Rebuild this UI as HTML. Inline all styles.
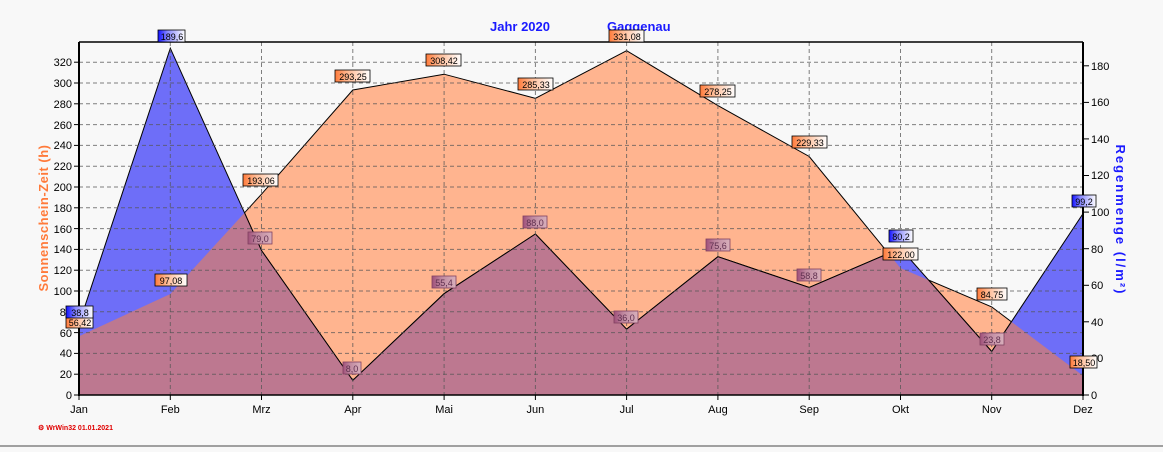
<!DOCTYPE html>
<html><head><meta charset="utf-8"><style>
html,body{margin:0;padding:0;background:#f8f8f8;}
svg text{font-family:"Liberation Sans",sans-serif;}
</style></head><body>
<svg width="1163" height="447" viewBox="0 0 1163 447" xmlns="http://www.w3.org/2000/svg">
<defs>
<linearGradient id="og" x1="0" x2="1"><stop offset="0" stop-color="#ff7a3a"/><stop offset="0.35" stop-color="#ffb890"/><stop offset="1" stop-color="#fff"/></linearGradient>
<linearGradient id="bg" x1="0" x2="1"><stop offset="0" stop-color="#1010ff"/><stop offset="0.35" stop-color="#8888ff"/><stop offset="1" stop-color="#fff"/></linearGradient>
<linearGradient id="mg" x1="0" x2="1"><stop offset="0" stop-color="#a0507a"/><stop offset="0.4" stop-color="#c08aa0"/><stop offset="1" stop-color="#d8b0bc"/></linearGradient>
<clipPath id="sunclip"><polygon points="79,395 79,336.3 170.3,294 261.5,194.2 352.8,90 444.1,74.2 535.4,98.3 626.6,50.7 717.9,105.6 809.2,156.5 900.5,268.1 991.7,306.9 1083,375.8 1083,395"/></clipPath>
</defs>
<rect x="0" y="445" width="1163" height="2" fill="#a0a0a0"/>
<rect x="79" y="42" width="1004" height="353" fill="#f8f8f8"/>
<!-- areas -->
<polygon points="79,395 79,336.3 170.3,294 261.5,194.2 352.8,90 444.1,74.2 535.4,98.3 626.6,50.7 717.9,105.6 809.2,156.5 900.5,268.1 991.7,306.9 1083,375.8 1083,395" fill="#ffb48f" stroke="#000" stroke-width="1"/>
<polygon points="79,395 79,324 170.3,48.2 261.5,250.5 352.8,380.4 444.1,293.7 535.4,234 626.6,329.2 717.9,256.7 809.2,287.5 900.5,248.3 991.7,351.5 1083,213.6 1083,395" fill="#6e6ef8" stroke="#000" stroke-width="1"/>
<polygon clip-path="url(#sunclip)" points="79,395 79,324 170.3,48.2 261.5,250.5 352.8,380.4 444.1,293.7 535.4,234 626.6,329.2 717.9,256.7 809.2,287.5 900.5,248.3 991.7,351.5 1083,213.6 1083,395" fill="#bd7890" stroke="#000" stroke-width="1"/>
<!-- grid -->
<g stroke="#555" stroke-opacity="0.75" stroke-dasharray="4,3" stroke-width="1">
<line x1="79" x2="1083" y1="374.2" y2="374.2"/><line x1="79" x2="1083" y1="353.4" y2="353.4"/><line x1="79" x2="1083" y1="332.6" y2="332.6"/><line x1="79" x2="1083" y1="311.8" y2="311.8"/><line x1="79" x2="1083" y1="291" y2="291"/><line x1="79" x2="1083" y1="270.2" y2="270.2"/><line x1="79" x2="1083" y1="249.4" y2="249.4"/><line x1="79" x2="1083" y1="228.6" y2="228.6"/><line x1="79" x2="1083" y1="207.8" y2="207.8"/><line x1="79" x2="1083" y1="187" y2="187"/><line x1="79" x2="1083" y1="166.2" y2="166.2"/><line x1="79" x2="1083" y1="145.4" y2="145.4"/><line x1="79" x2="1083" y1="124.6" y2="124.6"/><line x1="79" x2="1083" y1="103.8" y2="103.8"/><line x1="79" x2="1083" y1="83" y2="83"/><line x1="79" x2="1083" y1="62.2" y2="62.2"/>
<line x1="170.3" x2="170.3" y1="42" y2="395"/><line x1="261.5" x2="261.5" y1="42" y2="395"/><line x1="352.8" x2="352.8" y1="42" y2="395"/><line x1="444.1" x2="444.1" y1="42" y2="395"/><line x1="535.4" x2="535.4" y1="42" y2="395"/><line x1="626.6" x2="626.6" y1="42" y2="395"/><line x1="717.9" x2="717.9" y1="42" y2="395"/><line x1="809.2" x2="809.2" y1="42" y2="395"/><line x1="900.5" x2="900.5" y1="42" y2="395"/><line x1="991.7" x2="991.7" y1="42" y2="395"/>
</g>
<!-- frame -->
<line x1="79" y1="42" x2="1083" y2="42" stroke="#000" stroke-width="1.5"/>
<line x1="79" y1="42" x2="79" y2="396" stroke="#000" stroke-width="2"/>
<line x1="1083" y1="42" x2="1083" y2="396" stroke="#000" stroke-width="2"/>
<line x1="79" y1="395" x2="1083" y2="395" stroke="#000" stroke-width="1.5"/>
<!-- left ticks -->
<g stroke="#000" stroke-width="1">
<line x1="74" x2="79" y1="395" y2="395"/><line x1="74" x2="79" y1="374.2" y2="374.2"/><line x1="74" x2="79" y1="353.4" y2="353.4"/><line x1="74" x2="79" y1="332.6" y2="332.6"/><line x1="74" x2="79" y1="311.8" y2="311.8"/><line x1="74" x2="79" y1="291" y2="291"/><line x1="74" x2="79" y1="270.2" y2="270.2"/><line x1="74" x2="79" y1="249.4" y2="249.4"/><line x1="74" x2="79" y1="228.6" y2="228.6"/><line x1="74" x2="79" y1="207.8" y2="207.8"/><line x1="74" x2="79" y1="187" y2="187"/><line x1="74" x2="79" y1="166.2" y2="166.2"/><line x1="74" x2="79" y1="145.4" y2="145.4"/><line x1="74" x2="79" y1="124.6" y2="124.6"/><line x1="74" x2="79" y1="103.8" y2="103.8"/><line x1="74" x2="79" y1="83" y2="83"/><line x1="74" x2="79" y1="62.2" y2="62.2"/>
<line x1="1083" x2="1089" y1="395" y2="395"/><line x1="1083" x2="1089" y1="358.4" y2="358.4"/><line x1="1083" x2="1089" y1="321.8" y2="321.8"/><line x1="1083" x2="1089" y1="285.3" y2="285.3"/><line x1="1083" x2="1089" y1="248.7" y2="248.7"/><line x1="1083" x2="1089" y1="212.1" y2="212.1"/><line x1="1083" x2="1089" y1="175.5" y2="175.5"/><line x1="1083" x2="1089" y1="138.9" y2="138.9"/><line x1="1083" x2="1089" y1="102.4" y2="102.4"/><line x1="1083" x2="1089" y1="65.8" y2="65.8"/>
<line x1="79" x2="79" y1="395" y2="400"/><line x1="170.3" x2="170.3" y1="395" y2="400"/><line x1="261.5" x2="261.5" y1="395" y2="400"/><line x1="352.8" x2="352.8" y1="395" y2="400"/><line x1="444.1" x2="444.1" y1="395" y2="400"/><line x1="535.4" x2="535.4" y1="395" y2="400"/><line x1="626.6" x2="626.6" y1="395" y2="400"/><line x1="717.9" x2="717.9" y1="395" y2="400"/><line x1="809.2" x2="809.2" y1="395" y2="400"/><line x1="900.5" x2="900.5" y1="395" y2="400"/><line x1="991.7" x2="991.7" y1="395" y2="400"/><line x1="1083" x2="1083" y1="395" y2="400"/>
</g>
<g font-size="11" fill="#000" text-anchor="end">
<text x="72" y="399">0</text><text x="72" y="378">20</text><text x="72" y="357">40</text><text x="72" y="337">60</text><text x="72" y="316">80</text><text x="72" y="295">100</text><text x="72" y="274">120</text><text x="72" y="253">140</text><text x="72" y="233">160</text><text x="72" y="212">180</text><text x="72" y="191">200</text><text x="72" y="170">220</text><text x="72" y="149">240</text><text x="72" y="129">260</text><text x="72" y="108">280</text><text x="72" y="87">300</text><text x="72" y="66">320</text>
</g>
<g font-size="11" fill="#000">
<text x="1091" y="399">0</text><text x="1091" y="362">20</text><text x="1091" y="326">40</text><text x="1091" y="289">60</text><text x="1091" y="253">80</text><text x="1091" y="216">100</text><text x="1091" y="179">120</text><text x="1091" y="143">140</text><text x="1091" y="106">160</text><text x="1091" y="70">180</text>
</g>
<g font-size="11" fill="#000" text-anchor="middle">
<text x="79" y="413">Jan</text><text x="170.3" y="413">Feb</text><text x="261.5" y="413">Mrz</text><text x="352.8" y="413">Apr</text><text x="444.1" y="413">Mai</text><text x="535.4" y="413">Jun</text><text x="626.6" y="413">Jul</text><text x="717.9" y="413">Aug</text><text x="809.2" y="413">Sep</text><text x="900.5" y="413">Okt</text><text x="991.7" y="413">Nov</text><text x="1083" y="413">Dez</text>
</g>
<text x="490" y="31" font-size="13" font-weight="bold" fill="#1a1aff">Jahr  2020</text>
<text x="607" y="31" font-size="13" font-weight="bold" fill="#1a1aff">Gaggenau</text>
<text transform="translate(48,218) rotate(-90)" text-anchor="middle" font-size="13" font-weight="bold" fill="#ff7a3a" letter-spacing="0.5">Sonnenschein-Zeit  (h)</text>
<text transform="translate(1116,220) rotate(90)" text-anchor="middle" font-size="13" font-weight="bold" fill="#1a1aff" letter-spacing="2">Regenmenge  (l/m²)</text>
<text x="38" y="430" font-size="7" font-weight="bold" fill="#e00000">⚙ WrWin32  01.01.2021</text>
<!-- labels -->
<g font-size="9" fill="#000" text-anchor="middle">
<g stroke="#000" stroke-width="0.8">
<rect x="66" y="316" width="27" height="12" fill="url(#og)"/>
<rect x="155" y="274" width="32" height="12" fill="url(#og)"/>
<rect x="243" y="174" width="35" height="12" fill="url(#og)"/>
<rect x="335" y="70" width="35" height="12" fill="url(#og)"/>
<rect x="426" y="54" width="35" height="12" fill="url(#og)"/>
<rect x="518" y="78" width="35" height="12" fill="url(#og)"/>
<rect x="609" y="30" width="35" height="12" fill="url(#og)"/>
<rect x="700" y="85" width="35" height="12" fill="url(#og)"/>
<rect x="792" y="136" width="35" height="12" fill="url(#og)"/>
<rect x="883" y="248" width="35" height="12" fill="url(#og)"/>
<rect x="977" y="288" width="30" height="12" fill="url(#og)"/>
<rect x="1070" y="356" width="27" height="12" fill="url(#og)"/>
<rect x="66" y="306" width="27" height="12" fill="url(#bg)"/>
<rect x="158" y="30" width="27" height="12" fill="url(#bg)"/>
<rect x="248" y="232" width="24" height="12" fill="url(#mg)" stroke="#804060"/>
<rect x="343" y="362" width="18" height="12" fill="url(#mg)" stroke="#804060"/>
<rect x="432" y="276" width="24" height="12" fill="url(#mg)" stroke="#804060"/>
<rect x="523" y="216" width="24" height="12" fill="url(#mg)" stroke="#804060"/>
<rect x="614" y="311" width="24" height="12" fill="url(#mg)" stroke="#804060"/>
<rect x="706" y="239" width="24" height="12" fill="url(#mg)" stroke="#804060"/>
<rect x="797" y="269" width="24" height="12" fill="url(#mg)" stroke="#804060"/>
<rect x="889" y="230" width="24" height="12" fill="url(#bg)"/>
<rect x="980" y="333" width="24" height="12" fill="url(#mg)" stroke="#804060"/>
<rect x="1072" y="195" width="24" height="12" fill="url(#bg)"/>
</g>
<text x="80" y="326">56,42</text><text x="171" y="284">97,08</text><text x="261" y="184">193,06</text><text x="353" y="80">293,25</text><text x="444" y="64">308,42</text><text x="536" y="88">285,33</text><text x="627" y="40">331,08</text><text x="718" y="95">278,25</text><text x="810" y="146">229,33</text><text x="901" y="258">122,00</text><text x="992" y="298">84,75</text><text x="1084" y="366">18,50</text>
<text x="80" y="316">38,8</text><text x="172" y="40">189,6</text><text x="260" y="242" fill="#603050">79,0</text><text x="352" y="372" fill="#603050">8,0</text><text x="444" y="286" fill="#603050">55,4</text><text x="535" y="226" fill="#603050">88,0</text><text x="626" y="321" fill="#603050">36,0</text><text x="718" y="249" fill="#603050">75,6</text><text x="809" y="279" fill="#603050">58,8</text><text x="901" y="240">80,2</text><text x="992" y="343" fill="#603050">23,8</text><text x="1084" y="205">99,2</text>
</g>
</svg>
</body></html>
